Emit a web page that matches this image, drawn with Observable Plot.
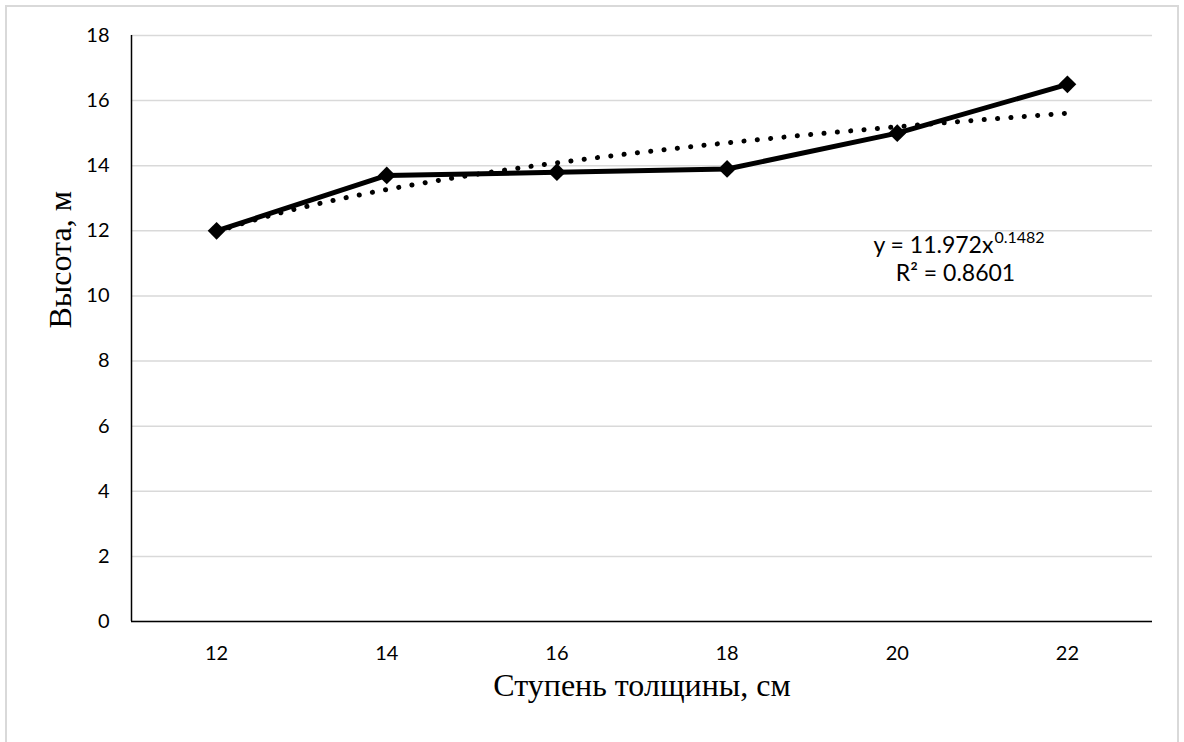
<!DOCTYPE html>
<html>
<head>
<meta charset="utf-8">
<script src="https://cdn.jsdelivr.net/npm/d3@7"></script>
<script src="https://cdn.jsdelivr.net/npm/@observablehq/plot@0.6"></script>
<style>
  html, body { margin: 0; padding: 0; background: #fff; }
  #wrap { position: relative; width: 1184px; height: 742px; overflow: hidden; }
  #border { position: absolute; left: 5px; top: 5px; width: 1174px; height: 760px;
            border: 2px solid #d9d9d9; box-sizing: border-box; pointer-events: none; }
  #chart { position: absolute; left: 0; top: 0; }
</style>
</head>
<body>
<div id="wrap"><div id="chart"></div><div id="border"></div></div>
<script>
// Diameter class (cm) and mean tree height (m)
const categories = [12, 14, 16, 18, 20, 22];
const heights = [12.0, 13.7, 13.8, 13.9, 15.0, 16.5];
const yTicks = [0, 2, 4, 6, 8, 10, 12, 14, 16, 18];

// Power trendline fitted over the category index (1..6): y = a·x^b
const trendA = 11.972;
const trendB = 0.1482;
const rSquared = 0.8601;

const xTitle = "Ступень толщины, см";
const yTitle = "Высота, м";

const data = categories.map((c, i) => ({x: c, y: heights[i]}));

// Category index i sits at class value 10 + 2i; sample the fitted curve finely
const trend = d3.range(1, 6.0001, 0.05).map(i => ({x: 10 + 2 * i, y: trendA * Math.pow(i, trendB)}));

const xDomain = [categories[0] - 1, categories[categories.length - 1] + 1];
const sans = "Lato, 'Open Sans', sans-serif";
const serif = "'Liberation Serif', 'DejaVu Serif', serif";

// anchor points (data units) for the equation block
const eqLine = {x: 21.13, y: 11.55};
const r2Line = {x: 20.685, y: 10.69};

const chart = Plot.plot({
  width: 1184,
  height: 742,
  marginLeft: 131,
  marginRight: 32,
  marginTop: 35,
  marginBottom: 121,
  style: {fontFamily: sans, fontSize: "20px", color: "#000", background: "transparent"},
  x: {domain: xDomain, ticks: categories},
  y: {domain: [0, 18], ticks: yTicks},
  marks: [
    Plot.gridY(yTicks, {stroke: "#d9d9d9", strokeOpacity: 1, strokeWidth: 1.5}),
    Plot.ruleX([xDomain[0]], {y1: 0, y2: 18, stroke: "#000", strokeWidth: 1.5}),
    Plot.ruleY([0], {stroke: "#000", strokeWidth: 1.5}),
    Plot.axisY(yTicks, {tickSize: 0, tickPadding: 22, fontSize: 20, fontFamily: sans, label: null}),
    Plot.axisX(categories, {tickSize: 0, tickPadding: 24, fontSize: 20, fontFamily: sans, label: null}),
    Plot.line(trend, {x: "x", y: "y", stroke: "#000", strokeWidth: 5,
      strokeDasharray: "0.1 13.3", strokeLinecap: "round"}),
    Plot.line(data, {x: "x", y: "y", stroke: "#000", strokeWidth: 5}),
    Plot.dot(data, {x: "x", y: "y", symbol: "diamond2", r: 8, fill: "#000", stroke: "none"}),
    // trendline equation and R²
    Plot.text([eqLine], {x: "x", y: "y", text: () => `y = ${trendA}x`,
      textAnchor: "end", fontSize: 23, fontFamily: sans, fill: "#000"}),
    Plot.text([eqLine], {x: "x", y: "y", text: () => `${trendB}`,
      textAnchor: "start", dx: 1, dy: -8, fontSize: 16, fontFamily: sans, fill: "#000"}),
    Plot.text([r2Line], {x: "x", y: "y", text: () => `R² = ${rSquared}`,
      textAnchor: "middle", fontSize: 23, fontFamily: sans, fill: "#000"}),
    // axis titles
    Plot.text([xTitle], {text: d => d, frameAnchor: "bottom", dy: 74,
      fontSize: 32, fontFamily: serif, fill: "#000"}),
    Plot.text([yTitle], {text: d => d, frameAnchor: "left", dx: -71, rotate: -90,
      fontSize: 32, fontFamily: serif, fill: "#000"})
  ]
});

document.getElementById("chart").appendChild(chart);
</script>
</body>
</html>
